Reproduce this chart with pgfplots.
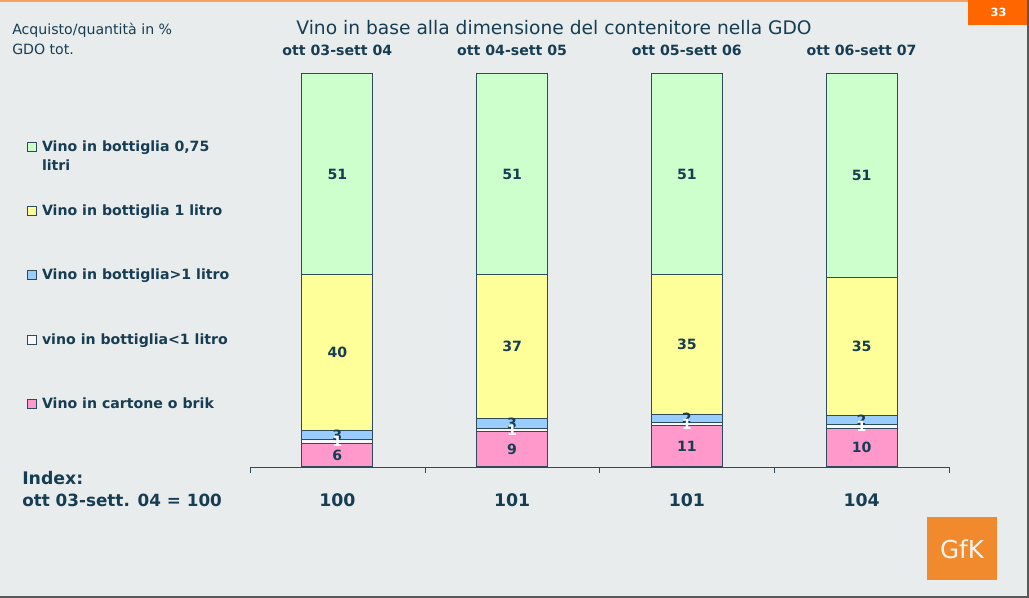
\documentclass[border=0pt]{standalone}
\usepackage{fontspec}
\setmainfont{DejaVu Sans}
\usepackage{pgfplots}
\usepackage{pgfplotstable}
\pgfplotsset{compat=1.18}

\definecolor{bg}{HTML}{E9ECEC}
\definecolor{ink}{HTML}{173D52}
\definecolor{edge}{HTML}{2F4A5A}
\definecolor{cgreen}{HTML}{CCFFCC}
\definecolor{cyellow}{HTML}{FFFF99}
\definecolor{cblue}{HTML}{99CCFF}
\definecolor{cwhite}{HTML}{F8F8F8}
\definecolor{cpink}{HTML}{FF99CC}
\definecolor{gfk}{HTML}{F08A2C}
\definecolor{tab}{HTML}{FF6600}
\definecolor{topline}{HTML}{F8A060}

\newcommand\fs{\fontsize{10.6}{14.6}\selectfont}
\newcommand\fb{\fontsize{10.6}{14.6}\selectfont\bfseries}
\newcommand\fbig{\fontsize{13}{16.5}\selectfont\bfseries}

% share of each segment in %, label as printed on the chart
\pgfplotstableread{
x y lab
0 6.1 6
1 9.0 9
2 10.5 11
3 9.8 10
}\cartone
\pgfplotstableread{
x y lab
0 0.8 1
1 0.8 1
2 0.9 1
3 1.0 1
}\piccola
\pgfplotstableread{
x y lab
0 2.5 3
1 2.5 3
2 2.0 2
3 2.4 2
}\grande
\pgfplotstableread{
x y lab
0 39.7 40
1 36.7 37
2 35.7 35
3 35.1 35
}\litro
\pgfplotstableread{
x y lab
0 50.9 51
1 51.0 51
2 50.9 51
3 51.7 51
}\bottiglia

\begin{document}
\begin{tikzpicture}
% page in pixel units
\begin{scope}[x=0.75pt,y=-0.75pt]
  \fill[bg] (0,0) rectangle (1029,598);
  \fill[topline] (0,0) rectangle (1029,2.5);
  \fill[tab] (968,0) rectangle (1029,25);
  \node[text=white,font=\fontsize{8.5}{10}\selectfont\bfseries] at (998.5,12.5) {33};
  \draw[gray!70!black,line width=1.5pt] (1028,0) -- (1028,597) -- (0,597);
  \node[anchor=base west,text=ink,font=\fs,inner sep=0pt] at (12,34.7) {Acquisto/quantità in \%};
  \node[anchor=base west,text=ink,font=\fs,inner sep=0pt] at (12,54.5) {GDO tot.};
  \node[anchor=base,text=ink,font=\fontsize{14}{17}\selectfont,inner sep=0pt] at (554,34.7)
    {Vino in base alla dimensione del contenitore nella GDO};
  \node[anchor=base west,text=ink,font=\fbig,inner sep=0pt] at (22,485) {Index:};
  \node[anchor=base west,text=ink,font=\fontsize{12.6}{16}\selectfont\bfseries,inner sep=0pt]
    at (22,506.5) {ott 03-sett. 04 = 100};
  \fill[gfk] (927,517) rectangle (997,580);
  \node[text=orange!8,font=\fontsize{18.5}{20}\selectfont] at (962,549) {GfK};
\end{scope}

\begin{axis}[
  at={(187.5pt,-350.25pt)}, anchor=south west,
  scale only axis, width=524.25pt, height=294.75pt,
  ybar stacked, bar width=53.25pt,
  xmin=-0.5, xmax=3.5, ymin=0, ymax=100,
  enlargelimits=false, clip=false,
  axis y line=none, axis x line*=bottom,
  axis line style={-,draw=edge},
  xtick={0,1,2,3}, xticklabels={100,101,101,104},
  major tick length=0pt,
  minor xtick={-0.5,0.5,1.5,2.5,3.5}, minor tick length=4.5pt,
  tick align=outside, tick style={draw=edge},
  xticklabel style={font=\fbig, text=ink, anchor=base, yshift=-30pt},
  every axis plot/.append style={draw=edge, line width=0.75pt},
  nodes near coords,
  point meta=explicit symbolic,
  every node near coord/.append style={anchor=center, font=\fb, text=ink, inner sep=0pt},
  reverse legend,
  legend image code/.code={\draw[#1] (0pt,0pt) rectangle (6.75pt,6.75pt);},
  legend style={at={(-0.319,0.8305)}, anchor=north west, draw=none, fill=none,
    inner sep=0pt, outer sep=0pt, font=\fb, text=ink, row sep=37.2pt,
    nodes={inner sep=0pt, text height=8pt, text depth=3pt},
    cells={anchor=base west},
    /tikz/every odd column/.append style={column sep=3.75pt}},
]
\addplot[fill=cpink] table[x=x,y=y,meta=lab] {\cartone};
\addlegendentry{Vino in cartone o brik}
\addplot[fill=cwhite, every node near coord/.append style={text=white}] table[x=x,y=y,meta=lab] {\piccola};
\addlegendentry{vino in bottiglia<1 litro}
\addplot[fill=cblue] table[x=x,y=y,meta=lab] {\grande};
\addlegendentry{Vino in bottiglia>1 litro}
\addplot[fill=cyellow] table[x=x,y=y,meta=lab] {\litro};
\addlegendentry{Vino in bottiglia 1 litro}
\addplot[fill=cgreen] table[x=x,y=y,meta=lab] {\bottiglia};
\addlegendentry{\smash{\parbox[t]{6cm}{\raggedright Vino in bottiglia 0,75\\litri}}}

\node[anchor=base,text=ink,font=\fb] at ([yshift=13.5pt]axis cs:0,100) {ott 03-sett 04};
\node[anchor=base,text=ink,font=\fb] at ([yshift=13.5pt]axis cs:1,100) {ott 04-sett 05};
\node[anchor=base,text=ink,font=\fb] at ([yshift=13.5pt]axis cs:2,100) {ott 05-sett 06};
\node[anchor=base,text=ink,font=\fb] at ([yshift=13.5pt]axis cs:3,100) {ott 06-sett 07};
\end{axis}

\pgfresetboundingbox
\path[use as bounding box] (0,0) rectangle (771.75pt,-448.5pt);
\end{tikzpicture}
\end{document}
